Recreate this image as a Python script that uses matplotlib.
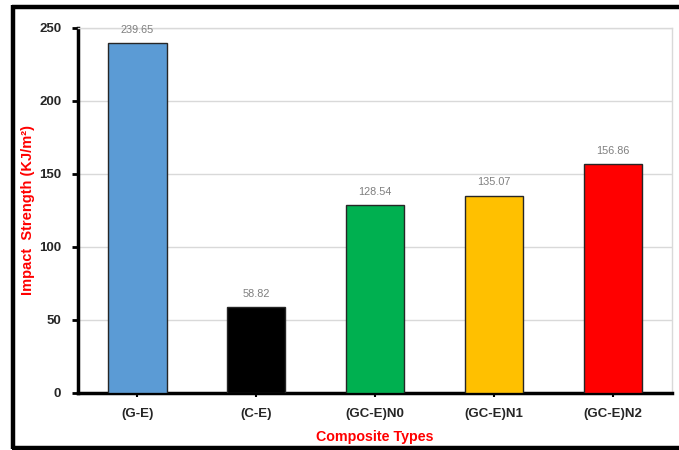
import matplotlib
matplotlib.use("Agg")
import matplotlib.pyplot as plt
from matplotlib.lines import Line2D

plt.rcParams['font.family'] = ['Liberation Sans', 'DejaVu Sans']

categories = ["(G-E)", "(C-E)", "(GC-E)N0", "(GC-E)N1", "(GC-E)N2"]
values = [239.65, 58.82, 128.54, 135.07, 156.86]
bar_colors = ["#5B9BD5", "#000000", "#00B050", "#FFC000", "#FF0000"]
y_ticks = [0, 50, 100, 150, 200, 250]

fig = plt.figure(figsize=(6.79, 4.5), dpi=100)
ax = fig.add_axes([0.1149, 0.1267, 0.875, 0.8111])

x = list(range(len(categories)))
bars = ax.bar(x, values, width=0.49, color=bar_colors, edgecolor="#262626",
              linewidth=1.0, zorder=3)

for rect, v in zip(bars, values):
    ax.annotate(f"{v:.2f}", (rect.get_x() + rect.get_width() / 2, v),
                xytext=(0, 6), textcoords="offset points", ha="center",
                va="bottom", fontsize=7.8, color="#7F7F7F")

ax.set_xlim(-0.5, len(categories) - 0.5)
ax.set_ylim(0, 250)
ax.set_yticks(y_ticks)
ax.set_xticks(x)
ax.set_xticklabels(categories)
ax.yaxis.grid(True, color="#D9D9D9", linewidth=1.0, zorder=0)
ax.set_axisbelow(True)

for lbl in ax.get_xticklabels() + ax.get_yticklabels():
    lbl.set_fontweight("bold")
    lbl.set_fontsize(9.5)
    lbl.set_color("#262626")

ax.tick_params(axis="y", direction="out", length=4, width=2, pad=8)
ax.tick_params(axis="x", direction="out", length=3, width=1.5, pad=8)

ax.spines["left"].set_linewidth(2.5)
ax.spines["bottom"].set_linewidth(2.5)
ax.spines["left"].set_color("black")
ax.spines["bottom"].set_color("black")
ax.spines["right"].set_color("#D9D9D9")
ax.spines["right"].set_linewidth(1.0)
ax.spines["top"].set_color("#D9D9D9")
ax.spines["top"].set_linewidth(1.0)

ax.set_ylabel("Impact  Strength (KJ/m²)", color="#FF0000", fontweight="bold",
              fontsize=10.5, va="center")
ax.yaxis.set_label_coords(-0.084, 0.5)
ax.set_xlabel("Composite Types", color="#FF0000", fontweight="bold",
              fontsize=10.3, va="center")
ax.xaxis.set_label_coords(0.5, -0.12)

# Outer chart frame (left, top, bottom edges)
frame_kw = dict(transform=fig.transFigure, color="black", linewidth=3.2,
                solid_capstyle="butt")
fig.add_artist(Line2D([13 / 679, 13 / 679], [1 - 5 / 450, 1 - 449 / 450], **frame_kw))
fig.add_artist(Line2D([11.5 / 679, 1.0], [1 - 7 / 450, 1 - 7 / 450], **frame_kw))
fig.add_artist(Line2D([11.5 / 679, 1.0], [1 - 448 / 450, 1 - 448 / 450], **frame_kw))

fig.savefig("out.png", dpi=100)
